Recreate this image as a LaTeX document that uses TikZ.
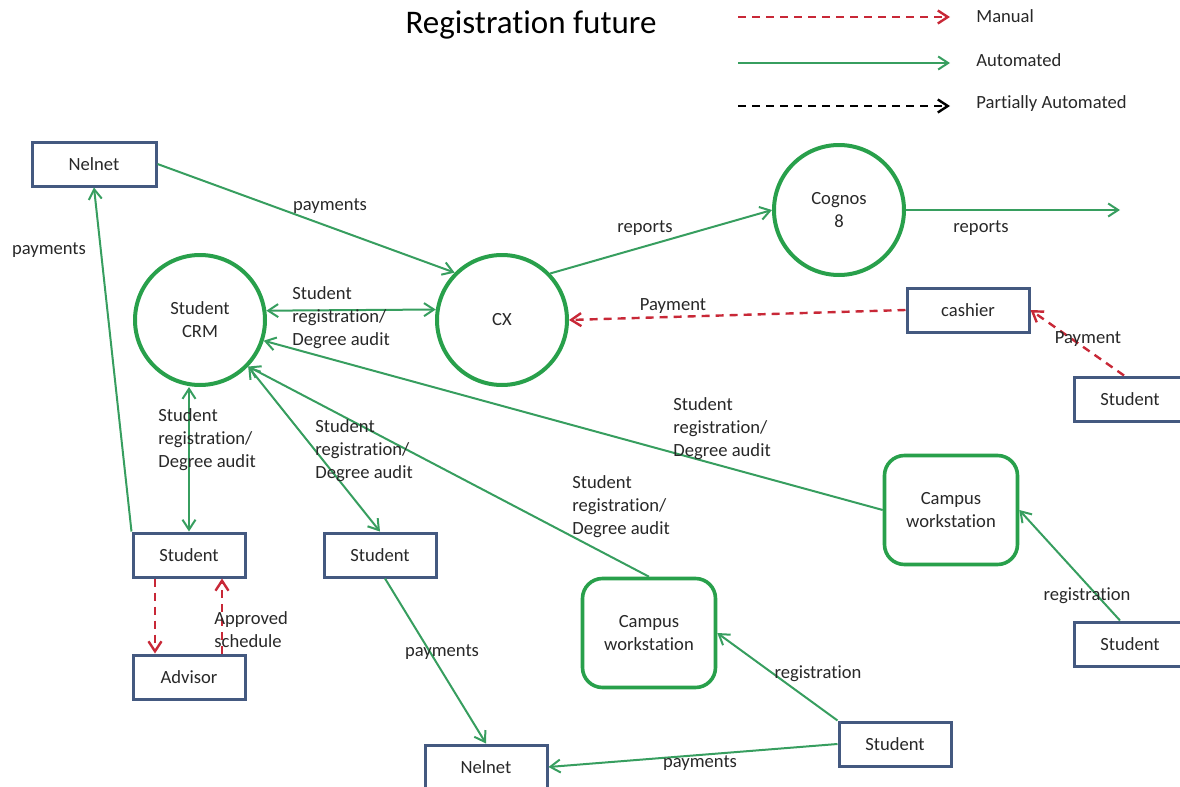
\documentclass[tikz,border=0pt]{standalone}
\usepackage{fontspec}
\setmainfont{Carlito}[Ligatures=NoCommon]
\usetikzlibrary{arrows.meta}
\definecolor{boxblue}{RGB}{68,89,128}
\definecolor{ringgreen}{RGB}{40,160,75}
\definecolor{flowgreen}{RGB}{55,158,95}
\definecolor{manualred}{RGB}{200,40,55}
\definecolor{inkgray}{RGB}{40,40,40}
\tikzset{
	entity/.style={draw=boxblue,line width=1.5pt,minimum width=56pt,minimum height=22pt,inner sep=2pt},
	process/.style={circle,draw=ringgreen,line width=2pt,minimum size=65pt,align=center,inner sep=0pt},
	station/.style={draw=ringgreen,line width=1.8pt,rounded corners=10pt,minimum width=66.5pt,minimum height=54.5pt,align=center},
	autoflow/.style={draw=flowgreen,line width=1pt},
	manualflow/.style={draw=manualred,line width=1.2pt,dash pattern=on 4pt off 3pt},
	partialflow/.style={draw=black,line width=1.2pt,dash pattern=on 4pt off 3pt},
	lbl/.style={inner sep=0pt,align=left}
}
\begin{document}
\begin{tikzpicture}[x=0.5pt,y=-0.5pt,font=\fontsize{9.3}{11.5}\selectfont,text=inkgray,
	>={Straight Barb[length=5pt,width=6.5pt]}]
\useasboundingbox (0,0) rectangle (1180,787);
% title and legend
\node[text=black] (title) at (531,25) {\fontsize{16.5}{20}\selectfont Registration future};
\coordinate (manA) at (738,17);
\coordinate (manB) at (950,17);
\coordinate (autA) at (738,63);
\coordinate (autB) at (950,63);
\coordinate (parA) at (738,106);
\coordinate (parB) at (950,106);
\draw[manualflow,->] (manA) -- (manB);
\draw[autoflow,->] (autA) -- (autB);
\draw[partialflow,->] (parA) -- (parB);
\node[lbl,anchor=west] (manT) at (976,16) {Manual};
\node[lbl,anchor=west] (autT) at (976,60) {Automated};
\node[lbl,anchor=west] (parT) at (976,104) {Partially Automated};
% entities and processes
\node[entity,minimum width=62pt] (nelT) at (94,164) {Nelnet};
\node[process] (crm) at (200,320) {Student\\CRM};
\node[process] (cx) at (502,320) {CX};
\node[process] (cognos) at (839,210) {Cognos\\8};
\node[entity,minimum width=61pt] (cashier) at (968,310) {cashier};
\node[entity] (stuR1) at (1130,399) {Student};
\node[entity] (stuL) at (189,555) {Student};
\node[entity] (stuM) at (380,555) {Student};
\node[entity] (adv) at (189,677) {Advisor};
\node[station] (cwR) at (951,510) {Campus\\workstation};
\node[station] (cwB) at (649,633) {Campus\\workstation};
\node[entity] (stuR2) at (1130,644) {Student};
\node[entity] (stuB) at (895,744) {Student};
\node[entity,minimum width=61pt] (nelB) at (486,767) {Nelnet};
\coordinate (repEnd) at (1120,210);
% flows
\draw[autoflow,->] (nelT.east) -- (cx.135);
\draw[autoflow,->] (stuL.north west) -- (nelT.south);
\draw[autoflow,<->] (crm.8.6) -- (cx.171.4);
\draw[autoflow,<->] (stuL.north |- crm.south) -- (stuL.north);
\draw[autoflow,<->] (crm.-44) -- (stuM.north);
\draw[autoflow,->] (cwB.north) -- (crm.-44);
\draw[autoflow,->] (cwR.west) -- (crm.-18);
\draw[autoflow,->] (cx.44) -- (cognos.west);
\draw[autoflow,->] (cognos.east) -- (repEnd);
\draw[manualflow,->] (cashier.west) -- (cx.east);
\draw[manualflow,->] ([xshift=-3pt]stuR1.north) -- (cashier.east);
\draw[manualflow,->] ([xshift=-17pt]stuL.south) -- ([xshift=-17pt]adv.north);
\draw[manualflow,->] ([xshift=16.5pt]adv.north) -- ([xshift=16.5pt]stuL.south);
\draw[autoflow,->] ([xshift=2.5pt]stuM.south) -- (nelB.north);
\draw[autoflow,->] (stuB.north west) -- (cwB.east);
\draw[autoflow,->] (stuB.west) -- (nelB.east);
\draw[autoflow,->] ([xshift=-5pt]stuR2.north) -- (cwR.east);
% flow labels
\node[lbl] (payT) at (330,206) {payments};
\node[lbl] (payL) at (49,250) {payments};
\node[lbl,anchor=west] (regCX) at (292,318) {Student\\registration/\\Degree audit};
\node[lbl,anchor=west] (regL) at (158,440) {Student\\registration/\\Degree audit};
\node[lbl,anchor=west] (regM) at (315,451) {Student\\registration/\\Degree audit};
\node[lbl,anchor=west] (regB) at (572,507) {Student\\registration/\\Degree audit};
\node[lbl,anchor=west] (regR) at (673,429) {Student\\registration/\\Degree audit};
\node[lbl] (repA) at (645,228) {reports};
\node[lbl] (repB) at (981,228) {reports};
\node[lbl] (payCX) at (673,306) {Payment};
\node[lbl] (payC) at (1088,339) {Payment};
\node[lbl,anchor=west] (apprS) at (214,630) {Approved\\schedule};
\node[lbl] (payM) at (442,652) {payments};
\node[lbl] (regSB) at (818,674) {registration};
\node[lbl] (payB) at (700,763) {payments};
\node[lbl] (regSR) at (1087,596) {registration};
\end{tikzpicture}
\end{document}
